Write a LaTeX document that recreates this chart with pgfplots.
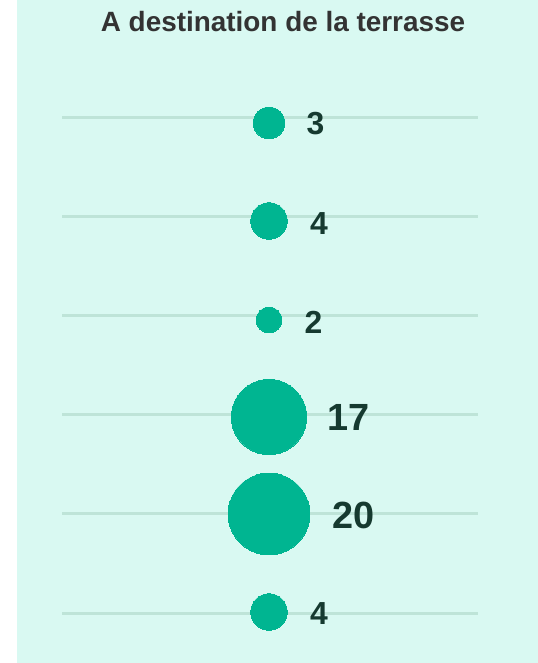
\documentclass[border=0pt]{standalone}
\usepackage{pgfplots}
\pgfplotsset{compat=1.18}
\usepackage{fontspec}
\setmainfont{Liberation Sans}
\definecolor{bgc}{RGB}{217,249,242}
\definecolor{bubble}{RGB}{0,181,145}
\definecolor{labc}{RGB}{22,58,48}
\definecolor{linec}{RGB}{190,228,216}
\definecolor{titlec}{RGB}{51,51,51}
\begin{document}
\begin{tikzpicture}[x=1bp,y=1bp]
\useasboundingbox (0,0) rectangle (538bp,663bp);
\fill[bgc] (17bp,0) rectangle (538bp,663bp);
\begin{axis}[
  at={(0,0)}, anchor=south west,
  width=538bp, height=663bp, scale only axis,
  xmin=0, xmax=538, ymin=0, ymax=663,
  hide axis, clip=false,
]
% horizontal guide lines
\addplot[linec, line width=3bp, mark=none] coordinates {(62,545.5) (478,545.5)};
\addplot[linec, line width=3bp, mark=none] coordinates {(62,446) (478,446)};
\addplot[linec, line width=3bp, mark=none] coordinates {(62,347.5) (478,347.5)};
\addplot[linec, line width=3bp, mark=none] coordinates {(62,248) (478,248)};
\addplot[linec, line width=3bp, mark=none] coordinates {(62,149) (478,149)};
\addplot[linec, line width=3bp, mark=none] coordinates {(62,49.5) (478,49.5)};
% bubbles (area proportional to value)
\addplot[scatter, only marks, mark=*, color=bubble,
  mark options={draw=bubble, fill=bubble, line width=0pt},
  scatter/use mapped color={draw=bubble, fill=bubble},
  visualization depends on={9.17*sqrt(\thisrow{v}) \as \msize},
  scatter/@pre marker code/.append style={/tikz/mark size=\msize}]
  table {
x y v
269 540 3
269 442 4
269 343 2
269 246 17
269 149 20
269 51 4
};
% value labels (small)
\addplot[draw=none, mark=none, nodes near coords, point meta=explicit symbolic,
  nodes near coords style={anchor=west, inner sep=0pt, text=labc,
    font=\bfseries\fontsize{32}{34}\selectfont}]
  table[meta=l] {
x y l
306.5 539.5 3
310 439 4
304.5 341 2
310 49.5 4
};
% value labels (large)
\addplot[draw=none, mark=none, nodes near coords, point meta=explicit symbolic,
  nodes near coords style={anchor=west, inner sep=0pt, text=labc,
    font=\bfseries\fontsize{38}{40}\selectfont}]
  table[meta=l] {
x y l
327.7 246 17
332 148 20
};
\node[anchor=base, inner sep=0pt, text=titlec, font=\bfseries\fontsize{28}{30}\selectfont]
  at (axis cs:283,631.4) {A destination de la terrasse};
\end{axis}
\end{tikzpicture}
\end{document}
